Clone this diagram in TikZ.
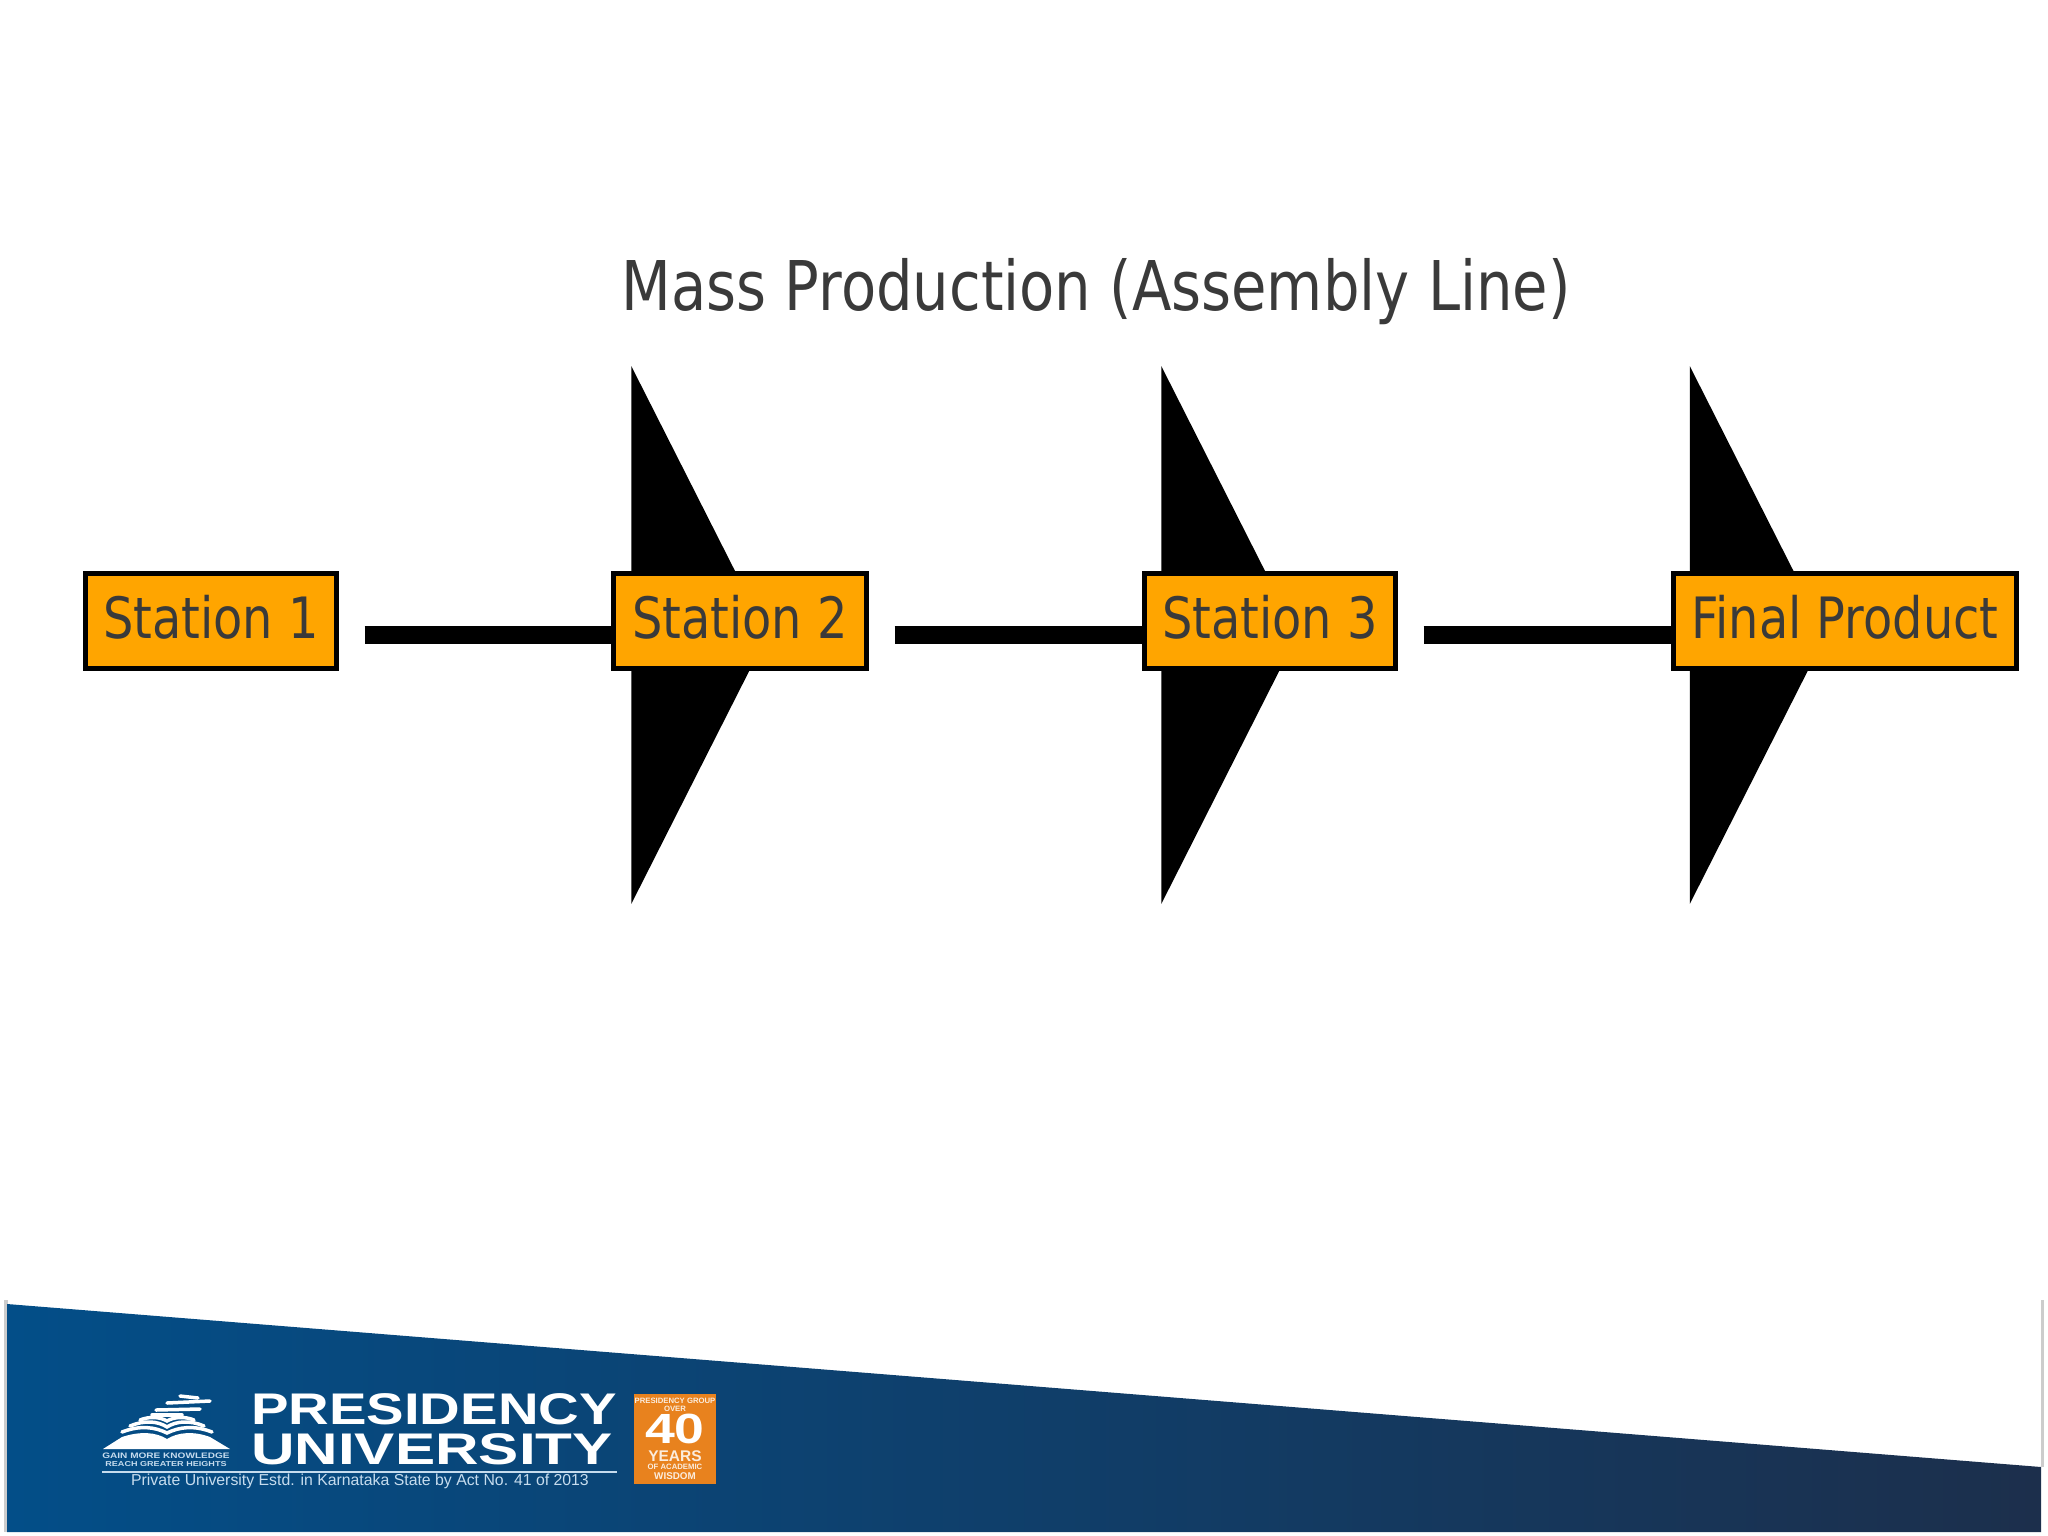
\documentclass[tikz,border=0pt]{standalone}
\usepackage{fontspec}
\setmainfont[FakeStretch=0.84]{DejaVu Sans}
\newfontfamily\logofont[FakeStretch=1.27]{Liberation Sans}
\newfontfamily\logowide[FakeStretch=1.36]{Liberation Sans}
\newfontfamily\tagfont{Liberation Sans}
\usetikzlibrary{arrows.meta,positioning,calc,backgrounds}
\definecolor{inkgrey}{HTML}{3A3A3A}
\definecolor{boxorange}{HTML}{FFA500}
\definecolor{bandleft}{HTML}{034E88}
\definecolor{bandright}{HTML}{1C2F4C}
\definecolor{badgeorange}{HTML}{E8821E}
\definecolor{tagblue}{HTML}{C6DCEE}

\begin{document}
\begin{tikzpicture}[x=0.01cm,y=-0.01cm,>=Stealth,
  st/.style={draw=black,line width=0.05cm,fill=boxorange,text=inkgrey,minimum height=0.94cm,inner sep=0pt,text depth=0.08cm,font=\fontsize{16.2}{20}\selectfont},
  lk/.style={line width=0.18cm,-{Triangle[length=1.36cm,width=5.35cm]}},
  lg/.style={text=white,inner sep=0pt,font=\logofont\bfseries\fontsize{12.6}{14}\selectfont},
  tg/.style={text=tagblue,inner sep=0pt,font=\tagfont\fontsize{4.5}{5}\selectfont},
  bd/.style={text=white!85!badgeorange,inner sep=0pt,font=\tagfont\bfseries\fontsize{2.2}{3}\selectfont},
  pg/.style={draw=white,line width=0.035cm,line cap=round}]
\useasboundingbox (0,0) rectangle (2048,1536);
\node[text=inkgrey,font=\fontsize{19.5}{25}\selectfont] (title) at (1096,292) {Mass Production (Assembly Line)};
\node[st,minimum width=2.50cm] (st1) at (211,621) {Station 1};
\node[st,minimum width=2.52cm] (st2) at (740,621) {Station 2};
\node[st,minimum width=2.50cm] (st3) at (1270,621) {Station 3};
\node[st,minimum width=3.43cm] (fin) at (1845,621) {Final Product};
% links run behind the boxes
\begin{scope}[on background layer]
\draw[lk] ($(st1.east)+(26,14)$) -- ($(st2.west)+(156,14)$);
\draw[lk] ($(st2.east)+(26,14)$) -- ($(st3.west)+(155,14)$);
\draw[lk] ($(st3.east)+(26,14)$) -- ($(fin.west)+(155,14)$);
\end{scope}
% footer band
\draw[gray!40,line width=0.03cm] (6,1300) -- (6,1532);
\draw[gray!40,line width=0.03cm] (2042,1300) -- (2042,1467);
\shade[left color=bandleft,right color=bandright] (7,1304) -- (2041,1467) -- (2041,1532) -- (7,1532) -- cycle;
% logo
\fill[white] (103,1449) -- (122,1437) .. controls (140,1431) and (156,1432) .. (167,1439) .. controls (178,1432) and (194,1431) .. (210,1437) -- (230,1449) -- cycle;
\draw[pg] (122,1432) .. controls (140,1425) and (155,1427) .. (167,1433) .. controls (179,1427) and (194,1425) .. (212,1432);
\draw[pg] (130,1426) .. controls (144,1420) and (158,1421) .. (167,1427) .. controls (176,1421) and (190,1420) .. (204,1426);
\draw[pg] (140,1420) .. controls (150,1416) and (160,1417) .. (167,1421) .. controls (174,1417) and (184,1416) .. (194,1420);
\draw[pg] (152,1415) -- (182,1415);
\draw[pg] (156,1410) -- (200,1409);
\draw[pg] (167,1403) -- (210,1401);
\draw[pg] (180,1396) -- (198,1398);
\node[inner sep=0pt,text=tagblue,font=\logofont\bfseries\fontsize{2.25}{3}\selectfont] (gain) at (166,1456) {GAIN MORE KNOWLEDGE};
\node[inner sep=0pt,text=tagblue,font=\logofont\bfseries\fontsize{2.03}{3}\selectfont] (reach) at (166,1464) {REACH GREATER HEIGHTS};
\node[lg] (pres) at (434,1409) {PRESIDENCY};
\node[lg,font=\logowide\bfseries\fontsize{12.6}{14}\selectfont] (univ) at (432,1449) {UNIVERSITY};
\draw[tagblue,line width=0.02cm] (102,1472) -- (617,1472);
\node[tg] (estd) at (360,1481) {Private University Estd. in Karnataka State by Act No. 41 of 2013};
\node[fill=badgeorange,minimum width=0.81cm,minimum height=0.9cm,inner sep=0pt] (badge) at (675,1439) {};
\node[bd] (grp) at (675,1401) {PRESIDENCY GROUP};
\node[bd] (over) at (675,1409) {OVER};
\node[text=white,inner sep=0pt,font=\logofont\bfseries\fontsize{12}{12}\selectfont] (forty) at (675,1429) {40};
\node[bd,font=\tagfont\bfseries\fontsize{4.4}{5}\selectfont] (yrs) at (675,1456) {YEARS};
\node[bd] (acad) at (675,1467) {OF ACADEMIC};
\node[bd,font=\tagfont\bfseries\fontsize{2.8}{3}\selectfont] (wis) at (675,1476) {WISDOM};
\end{tikzpicture}
\end{document}
